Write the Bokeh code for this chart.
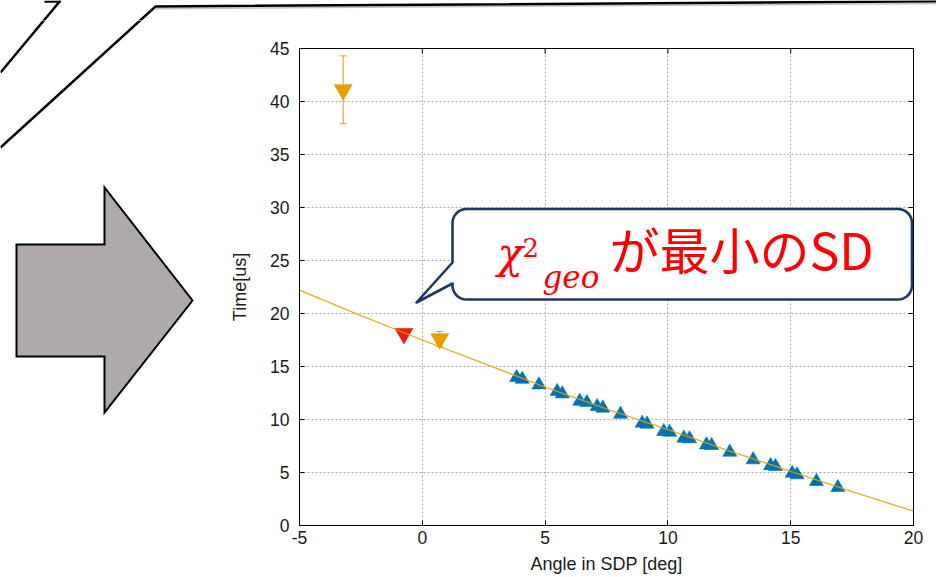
import numpy as np
from bokeh.plotting import figure
from bokeh.layouts import row, column
from bokeh.models import Range1d, FixedTicker, ColumnDataSource, Whisker, TeeHead
from bokeh.core.properties import value
from bokeh.embed import file_html
from bokeh.resources import INLINE

# ---- data -------------------------------------------------------------
# SD stations used in the geometry fit: angle in SDP [deg], time [us]
sd_angle = [3.84, 4.07, 4.75, 5.49, 5.70, 6.41, 6.70, 7.12, 7.35, 8.07,
            8.95, 9.15, 9.83, 10.07, 10.65, 10.88, 11.57, 11.78, 12.52,
            13.47, 14.18, 14.38, 15.06, 15.26, 16.05, 16.92]
sd_time = [13.96, 13.80, 13.27, 12.64, 12.42, 11.72, 11.60, 11.23, 11.07,
           10.50, 9.65, 9.56, 8.87, 8.80, 8.24, 8.18, 7.61, 7.55, 6.92,
           6.20, 5.65, 5.57, 4.93, 4.78, 4.15, 3.58]

# stations outside the fit, with their timing uncertainty
out_angle = [-3.22, 0.71]
out_time = [41.1, 17.6]
out_err = [3.2, 0.7]

# station with the smallest chi^2_geo
best_angle = [-0.75]
best_time = [18.1]

# fitted time curve along the SDP
fit_angle = [-5, -2.5, 0, 2.5, 5, 7.5, 10, 12.5, 15, 17.5, 20]
fit_time = [22.2, 19.8, 17.5, 15.3, 13.05, 11.0, 9.05, 7.05, 5.1, 3.2, 1.35]

x_ticks = [-5, 0, 5, 10, 15, 20]
y_ticks = [0, 5, 10, 15, 20, 25, 30, 35, 40, 45]

callout_text = "が最小のSD"

# ---- page geometry (pixels) -------------------------------------------
W, H = 936, 577
TOP_H = 20
LEFT_W = 200
FL, FR, FT, FB = 299, 913, 48, 525   # plot frame on the page

BLUE = "#0072B2"
ORANGE = "#E69F00"
RED = "#E51E10"
NAVY = "#1F3864"

# slide decorations in page pixels
diag1_x, diag1_y = [0, 60], [72, 0]
stub_x, stub_y = [44, 60], [1.2, 1.2]
diag2_x, diag2_y = [0, 155, 936], [147, 6, 0.8]
arrow_x = [16, 104, 104, 192, 104, 104, 16]
arrow_y = [244, 244, 187, 300, 412, 356, 356]


def bare(width, height, xr, yr):
    f = figure(width=width, height=height, x_range=xr, y_range=yr,
               x_axis_type=None, y_axis_type=None, min_border=0,
               min_border_left=0, min_border_right=0, min_border_top=0,
               min_border_bottom=0, toolbar_location=None,
               output_backend="svg", outline_line_color=None,
               background_fill_color="white", border_fill_color="white",
               frame_align=False)
    return f


def draw_decor(f):
    f.line(diag1_x, diag1_y, line_color="black", line_width=2.5)
    f.line(stub_x, stub_y, line_color="black", line_width=2.2)
    f.line([diag2_x[1], diag2_x[2]], [diag2_y[1] + 2.2, diag2_y[2] + 2.2],
           line_color="#9a9a9a", line_width=1.5, line_alpha=0.6)
    f.line(diag2_x, diag2_y, line_color="black", line_width=2.5,
           line_join="miter")


top = bare(W, TOP_H, Range1d(0, W), Range1d(TOP_H, 0))
draw_decor(top)

left = bare(LEFT_W, H - TOP_H, Range1d(0, LEFT_W), Range1d(H, TOP_H))
draw_decor(left)
left.patch(arrow_x, arrow_y, fill_color="#AEAAAA", line_color="black",
           line_width=2, line_join="miter")

# ---- chart ------------------------------------------------------------
p = figure(width=W - LEFT_W, height=H - TOP_H,
           x_range=Range1d(x_ticks[0], x_ticks[-1]),
           y_range=Range1d(y_ticks[0], y_ticks[-1]),
           min_border_left=FL - LEFT_W, min_border_right=W - FR,
           min_border_top=FT - TOP_H, min_border_bottom=H - FB,
           toolbar_location=None, output_backend="svg",
           outline_line_color="black", outline_line_width=1,
           background_fill_color="white", border_fill_color="white",
           frame_align=False)
p.extra_x_ranges = {"page": Range1d(FL, FR)}
p.extra_y_ranges = {"page": Range1d(FB, FT)}

p.xaxis.ticker = FixedTicker(ticks=x_ticks)
p.yaxis.ticker = FixedTicker(ticks=y_ticks)
p.xaxis.major_label_overrides = {t: str(t) for t in x_ticks}
p.yaxis.major_label_overrides = {t: str(t) for t in y_ticks}
p.xaxis.axis_label = "Angle in SDP [deg]"
p.yaxis.axis_label = "Time[us]"
for ax in (p.xaxis[0], p.yaxis[0]):
    ax.axis_line_color = "black"
    ax.major_tick_line_color = "black"
    ax.major_tick_in = 5
    ax.major_tick_out = 0
    ax.minor_tick_line_color = None
    ax.major_label_text_font = "Liberation Sans"
    ax.major_label_text_font_size = "17.5px"
    ax.major_label_text_color = "#1a1a1a"
    ax.axis_label_text_font = "Liberation Sans"
    ax.axis_label_text_font_size = "18px"
    ax.axis_label_text_font_style = "normal"
    ax.axis_label_text_color = "#1a1a1a"
p.xaxis.major_label_standoff = 5
p.xaxis.axis_label_standoff = 7
p.yaxis.major_label_standoff = 10
p.yaxis.axis_label_standoff = 17

p.grid.grid_line_color = "#a8a8a8"
p.grid.grid_line_dash = "2 2"
p.grid.grid_line_width = 1

# mirrored inward ticks on the top and right sides
p.ray(x=x_ticks, y=[y_ticks[-1]] * len(x_ticks), length=5,
      length_units="screen", angle=-np.pi / 2, line_color="black",
      line_width=1)
p.ray(x=[x_ticks[-1]] * len(y_ticks), y=y_ticks, length=5,
      length_units="screen", angle=np.pi, line_color="black", line_width=1)

# error bars of the stations outside the fit
err_src = ColumnDataSource(dict(
    x=out_angle,
    upper=[t + e for t, e in zip(out_time, out_err)],
    lower=[t - e for t, e in zip(out_time, out_err)],
))
wh = Whisker(base="x", upper="upper", lower="lower", source=err_src,
             dimension="height", line_color=ORANGE, line_width=1,
             upper_head=TeeHead(size=7, line_color=ORANGE, line_width=1),
             lower_head=TeeHead(size=7, line_color=ORANGE, line_width=1),
             level="underlay")
p.add_layout(wh)

p.scatter(sd_angle, sd_time, marker="triangle", size=14,
          fill_color=BLUE, line_color=BLUE, line_width=0.6)
p.scatter(out_angle, out_time, marker="inverted_triangle", size=18,
          fill_color=ORANGE, line_color=ORANGE, line_width=0.6)
p.scatter(best_angle, best_time, marker="inverted_triangle", size=18,
          fill_color=RED, line_color=RED, line_width=0.6)

p.line(fit_angle, fit_time, line_color=ORANGE, line_width=1.3,
       line_alpha=0.85)

# speech-bubble callout (page pixels)
cl, ct, cr, cb, rad = 452, 208.5, 911.5, 299, 14
tail_lo, tail_tip, tail_hi = 283, (416, 302), 262


def arc(cx, cy, a0, a1, n=10):
    a = np.radians(np.linspace(a0, a1, n))
    return list(cx + rad * np.cos(a)), list(cy + rad * np.sin(a))


bx, by = [], []
for cx, cy, a0, a1 in [(cl + rad, ct + rad, 180, 270),
                       (cr - rad, ct + rad, 270, 360),
                       (cr - rad, cb - rad, 0, 90),
                       (cl + rad, cb - rad, 90, 180)]:
    ax_, ay_ = arc(cx, cy, a0, a1)
    bx += ax_
    by += ay_
bx += [cl, tail_tip[0], cl]
by += [tail_lo, tail_tip[1], tail_hi]

p.patch(bx, by, fill_color="white", line_color=NAVY, line_width=2.6,
        line_join="round", x_range_name="page", y_range_name="page")

p.text(x=[497], y=[253], text=["χ"], text_font=value("DejaVu Serif"),
       text_font_style="italic", text_font_size=value("42px"),
       text_color="red", text_baseline="alphabetic", text_align="left",
       x_range_name="page", y_range_name="page")
p.text(x=[522], y=[247], text=["2"], text_font=value("DejaVu Serif"),
       text_font_size=value("26px"), text_color="red",
       text_baseline="alphabetic", text_align="left",
       x_range_name="page", y_range_name="page")
p.text(x=[542], y=[276], text=["geo"], text_font=value("DejaVu Serif"),
       text_font_style="italic", text_font_size=value("31px"),
       text_color="red", text_baseline="alphabetic", text_align="left",
       x_range_name="page", y_range_name="page")
p.text(x=[609], y=[247], text=[callout_text],
       text_font=value("Noto Sans CJK JP"), text_font_size=value("50px"),
       text_color="red", text_baseline="alphabetic", text_align="left",
       x_range_name="page", y_range_name="page")

layout = column(top, row(left, p, spacing=0), spacing=0)

open("out.html", "w").write(file_html(layout, INLINE))
